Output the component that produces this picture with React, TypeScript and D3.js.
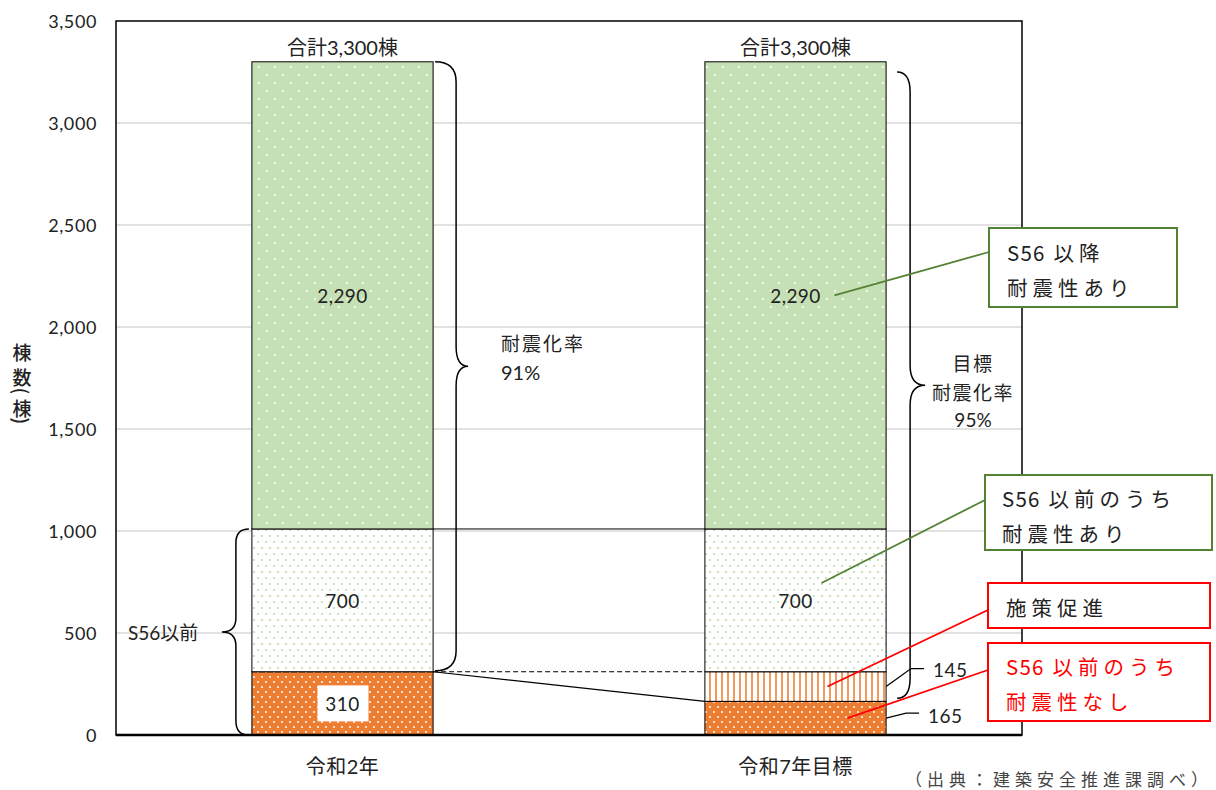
import React from "react";
import * as d3 from "d3";

const categories = ["令和2年", "令和7年目標"];
const seriesKeys = ["noSeismic", "promotion", "preSeismic", "postSeismic"];
const noSeismic = [310, 165];
const promotion = [0, 145];
const preSeismic = [700, 700];
const postSeismic = [2290, 2290];
const totalLabels = ["合計3,300棟", "合計3,300棟"];
const yTicks = [0, 500, 1000, 1500, 2000, 2500, 3000, 3500];
const yLabelChars = ["棟", "数", "(", "棟", ")"];

const W = 1216;
const H = 790;
const M = { left: 116, right: 1022, top: 21, bottom: 735 };

const JP = "'Noto Sans CJK JP', sans-serif";
const NUM = "Lato, 'Noto Sans CJK JP', sans-serif";

const fills: Record<string, string> = {
  noSeismic: "url(#patOrange)",
  promotion: "url(#patStripe)",
  preSeismic: "url(#patLight)",
  postSeismic: "url(#patGreen)",
};

function bracePath(x0: number, y1: number, y2: number, a: number, b: number, q: number) {
  const mid = (y1 + y2) / 2;
  const xv = x0 + a;
  const xt = x0 + b;
  return [
    `M${x0},${y1}`,
    `Q${xv},${y1} ${xv},${y1 + q}`,
    `L${xv},${mid - q}`,
    `Q${xv},${mid} ${xt},${mid}`,
    `Q${xv},${mid} ${xv},${mid + q}`,
    `L${xv},${y2 - q}`,
    `Q${xv},${y2} ${x0},${y2}`,
  ].join(" ");
}

function Callout(props: {
  x: number; y: number; w: number; h: number; stroke: string; color: string;
  lines: { latin?: string; jp: string; cy: number }[]; tx: number;
}) {
  return (
    <g>
      <rect x={props.x} y={props.y} width={props.w} height={props.h} fill="#fff" stroke={props.stroke} strokeWidth={2} />
      {props.lines.map((l, i) => (
        <text key={i} x={props.tx} y={l.cy} dominantBaseline="central" fontFamily={JP} fontSize={20.5} fontWeight={400} fill={props.color}>
          {l.latin ? <tspan letterSpacing={1.2}>{l.latin}</tspan> : null}
          <tspan letterSpacing={5} dx={l.latin ? 8 : 0}>{l.jp}</tspan>
        </text>
      ))}
    </g>
  );
}

export default function App() {
  const rows = categories.map((c, i) => ({
    cat: c,
    noSeismic: noSeismic[i],
    promotion: promotion[i],
    preSeismic: preSeismic[i],
    postSeismic: postSeismic[i],
  }));
  const stacked = d3.stack<any>().keys(seriesKeys)(rows);

  const x = d3
    .scaleBand<string>()
    .domain(categories)
    .range([M.left, M.right])
    .paddingInner(0.6)
    .paddingOuter(0.3);
  const y = d3.scaleLinear().domain([0, 3500]).range([M.bottom, M.top]);
  const bw = x.bandwidth();
  const x0 = x(categories[0])!;
  const x1 = x(categories[1])!;
  const c0 = x0 + bw / 2;
  const c1 = x1 + bw / 2;

  const top1010 = noSeismic[0] + promotion[0] + preSeismic[0];
  const total = top1010 + postSeismic[0];
  const yLabelY = [351, 376, 391, 407, 421];

  return (
    <svg width={W} height={H} style={{ position: "absolute", left: 0, top: 0, background: "#fff" }}>
      <defs>
        <pattern id="patGreen" width={16} height={16} patternUnits="userSpaceOnUse">
          <rect width={16} height={16} fill="#C5E0B4" />
          <circle cx={3} cy={3} r={1} fill="#fff" />
          <circle cx={11} cy={11} r={1} fill="#fff" />
        </pattern>
        <pattern id="patLight" width={8} height={12} patternUnits="userSpaceOnUse">
          <rect width={8} height={12} fill="#fff" />
          <circle cx={2} cy={2} r={1.1} fill="#BCDCA8" />
          <circle cx={6} cy={8} r={1.1} fill="#BCDCA8" />
        </pattern>
        <pattern id="patOrange" width={8} height={10} patternUnits="userSpaceOnUse">
          <rect width={8} height={10} fill="#ED7D31" />
          <circle cx={2} cy={2} r={1} fill="#fff" />
          <circle cx={6} cy={7} r={1} fill="#fff" />
        </pattern>
        <pattern id="patStripe" width={6} height={6} patternUnits="userSpaceOnUse">
          <rect width={6} height={6} fill="#fff" />
          <rect x={1} width={2} height={6} fill="#F19A5E" />
        </pattern>
      </defs>

      {/* gridlines */}
      {yTicks.slice(1, -1).map((t) => (
        <line key={t} x1={M.left} x2={M.right} y1={y(t)} y2={y(t)} stroke="#D9D9D9" strokeWidth={1.5} />
      ))}

      {/* bars */}
      {stacked.map((s) =>
        s.map((d, i) =>
          d[1] - d[0] > 0 ? (
            <rect
              key={s.key + i}
              x={x(categories[i])}
              width={bw}
              y={y(d[1])}
              height={y(d[0]) - y(d[1])}
              fill={fills[s.key]}
              stroke="#000"
              strokeWidth={1}
            />
          ) : null
        )
      )}

      {/* series lines */}
      <line x1={x0 + bw} x2={x1} y1={y(top1010)} y2={y(top1010)} stroke="#000" strokeWidth={1} />
      <line x1={x0 + bw} x2={x1} y1={y(noSeismic[0])} y2={y(noSeismic[1])} stroke="#000" strokeWidth={1.2} />
      <line
        x1={x0 + bw}
        x2={x1}
        y1={y(noSeismic[0] + promotion[0])}
        y2={y(noSeismic[1] + promotion[1])}
        stroke="#000"
        strokeWidth={1.2}
        strokeDasharray="5,3"
      />

      {/* plot border */}
      <rect x={M.left} y={M.top} width={M.right - M.left} height={M.bottom - M.top} fill="none" stroke="#000" strokeWidth={1.5} />
      <line x1={M.left} x2={M.right} y1={M.bottom} y2={M.bottom} stroke="#000" strokeWidth={2.5} />

      {/* y ticks */}
      {yTicks.map((t) => (
        <text key={t} x={97} y={y(t)} textAnchor="end" dominantBaseline="central" fontFamily={NUM} fontSize={18} fill="#222" letterSpacing={0.6}>
          {d3.format(",")(t)}
        </text>
      ))}

      {/* y label */}
      {yLabelChars.map((ch, i) => (
        <text
          key={i}
          x={22}
          y={yLabelY[i]}
          textAnchor="middle"
          dominantBaseline="central"
          fontFamily={JP}
          fontSize={19}
          fontWeight={500}
          fill="#222"
          transform={ch === "(" || ch === ")" ? `rotate(90 22 ${yLabelY[i]})` : undefined}
        >
          {ch}
        </text>
      ))}

      {/* category labels */}
      {categories.map((c) => (
        <text key={c} x={x(c)! + bw / 2} y={766} textAnchor="middle" dominantBaseline="central" fontFamily={NUM} fontSize={20} fill="#222" letterSpacing={0.5}>
          {c}
        </text>
      ))}

      {/* totals */}
      {categories.map((c, i) => (
        <text key={c} x={x(c)! + bw / 2} y={47} textAnchor="middle" dominantBaseline="central" fontFamily={NUM} fontSize={20} fill="#222">
          {totalLabels[i]}
        </text>
      ))}

      {/* bar value labels */}
      {categories.map((c, i) => (
        <g key={c}>
          <text x={x(c)! + bw / 2} y={y(top1010 + postSeismic[i] / 2)} textAnchor="middle" dominantBaseline="central" fontFamily={NUM} fontSize={19} fill="#222" letterSpacing={0.4}>
            {d3.format(",")(postSeismic[i])}
          </text>
          <text x={x(c)! + bw / 2} y={y(noSeismic[i] + promotion[i] + preSeismic[i] / 2)} textAnchor="middle" dominantBaseline="central" fontFamily={NUM} fontSize={19} fill="#222" letterSpacing={0.4}>
            {d3.format(",")(preSeismic[i])}
          </text>
        </g>
      ))}
      <rect x={c0 - 25} y={y(noSeismic[0] / 2) - 18} width={51} height={36} fill="#fff" />
      <text x={c0} y={y(noSeismic[0] / 2)} textAnchor="middle" dominantBaseline="central" fontFamily={NUM} fontSize={19} fill="#222" letterSpacing={0.4}>
        {noSeismic[0]}
      </text>

      {/* bar2 outside labels with leaders */}
      <polyline
        points={`${x1 + bw},${y(noSeismic[1] + promotion[1] / 2)} ${x1 + bw + 25},${y(noSeismic[1] + promotion[1] / 2) - 18} ${x1 + bw + 38},${y(noSeismic[1] + promotion[1] / 2) - 18}`}
        fill="none"
        stroke="#000"
        strokeWidth={1.3}
      />
      <text x={x1 + bw + 47} y={669} dominantBaseline="central" fontFamily={NUM} fontSize={19} fill="#222" letterSpacing={0.4}>
        {promotion[1]}
      </text>
      <polyline
        points={`${x1 + bw},${y(noSeismic[1] / 2)} ${x1 + bw + 20},${y(noSeismic[1] / 2) - 5} ${x1 + bw + 33},${y(noSeismic[1] / 2) - 5}`}
        fill="none"
        stroke="#000"
        strokeWidth={1.3}
      />
      <text x={x1 + bw + 42} y={715} dominantBaseline="central" fontFamily={NUM} fontSize={19} fill="#222" letterSpacing={0.4}>
        {noSeismic[1]}
      </text>

      {/* braces */}
      <path d={bracePath(x0 + bw + 2, y(total), y(noSeismic[0]) - 1, 21, 33, 20)} fill="none" stroke="#000" strokeWidth={1.5} />
      <path d={bracePath(x1 + bw + 11, y(3250), y(noSeismic[1]) - 3, 13, 28, 20)} fill="none" stroke="#000" strokeWidth={1.5} />
      <path d={bracePath(x0 - 3, y(top1010), y(0), -13, -27, 14)} fill="none" stroke="#000" strokeWidth={1.5} />

      {/* brace labels */}
      <text x={501} y={342} dominantBaseline="central" fontFamily={JP} fontSize={19} fill="#222" letterSpacing={2}>
        耐震化率
      </text>
      <text x={501} y={372} dominantBaseline="central" fontFamily={NUM} fontSize={20} fill="#222">
        91%
      </text>
      <text x={973} y={362} textAnchor="middle" dominantBaseline="central" fontFamily={JP} fontSize={19} fill="#222" letterSpacing={1.5}>
        目標
      </text>
      <text x={973} y={391} textAnchor="middle" dominantBaseline="central" fontFamily={JP} fontSize={19} fill="#222" letterSpacing={1.5}>
        耐震化率
      </text>
      <text x={973} y={419} textAnchor="middle" dominantBaseline="central" fontFamily={NUM} fontSize={19} fill="#222">
        95%
      </text>
      <text x={128} y={632} dominantBaseline="central" fontFamily={NUM} fontSize={19} fill="#222">
        S56以前
      </text>

      {/* callouts */}
      <line x1={989} y1={252} x2={c1 + 39} y2={y(top1010 + postSeismic[1] / 2)} stroke="#548235" strokeWidth={1.8} />
      <Callout x={989} y={228} w={188} h={79} stroke="#548235" color="#222" tx={1007}
        lines={[{ latin: "S56", jp: "以降", cy: 252 }, { jp: "耐震性あり", cy: 287 }]} />

      <line x1={985} y1={500} x2={c1 + 26} y2={y(745)} stroke="#548235" strokeWidth={1.8} />
      <Callout x={985} y={475} w={227} h={75} stroke="#548235" color="#222" tx={1002}
        lines={[{ latin: "S56", jp: "以前のうち", cy: 498 }, { jp: "耐震性あり", cy: 533 }]} />

      <line x1={988} y1={610} x2={c1 + 32} y2={y(noSeismic[1] + promotion[1] / 2)} stroke="#FF0000" strokeWidth={1.8} />
      <Callout x={988} y={583} w={222} h={45} stroke="#FF0000" color="#222" tx={1006}
        lines={[{ jp: "施策促進", cy: 607 }]} />

      <line x1={988} y1={670} x2={c1 + 52} y2={y(noSeismic[1] / 2)} stroke="#FF0000" strokeWidth={1.8} />
      <Callout x={988} y={643} w={222} h={78} stroke="#FF0000" color="#FF0000" tx={1006}
        lines={[{ latin: "S56", jp: "以前のうち", cy: 666 }, { jp: "耐震性なし", cy: 701 }]} />

      {/* source */}
      <text x={905} y={778} dominantBaseline="central" fontFamily={JP} fontSize={17} fill="#444" letterSpacing={5}>
        （出典：建築安全推進課調べ）
      </text>
    </svg>
  );
}
